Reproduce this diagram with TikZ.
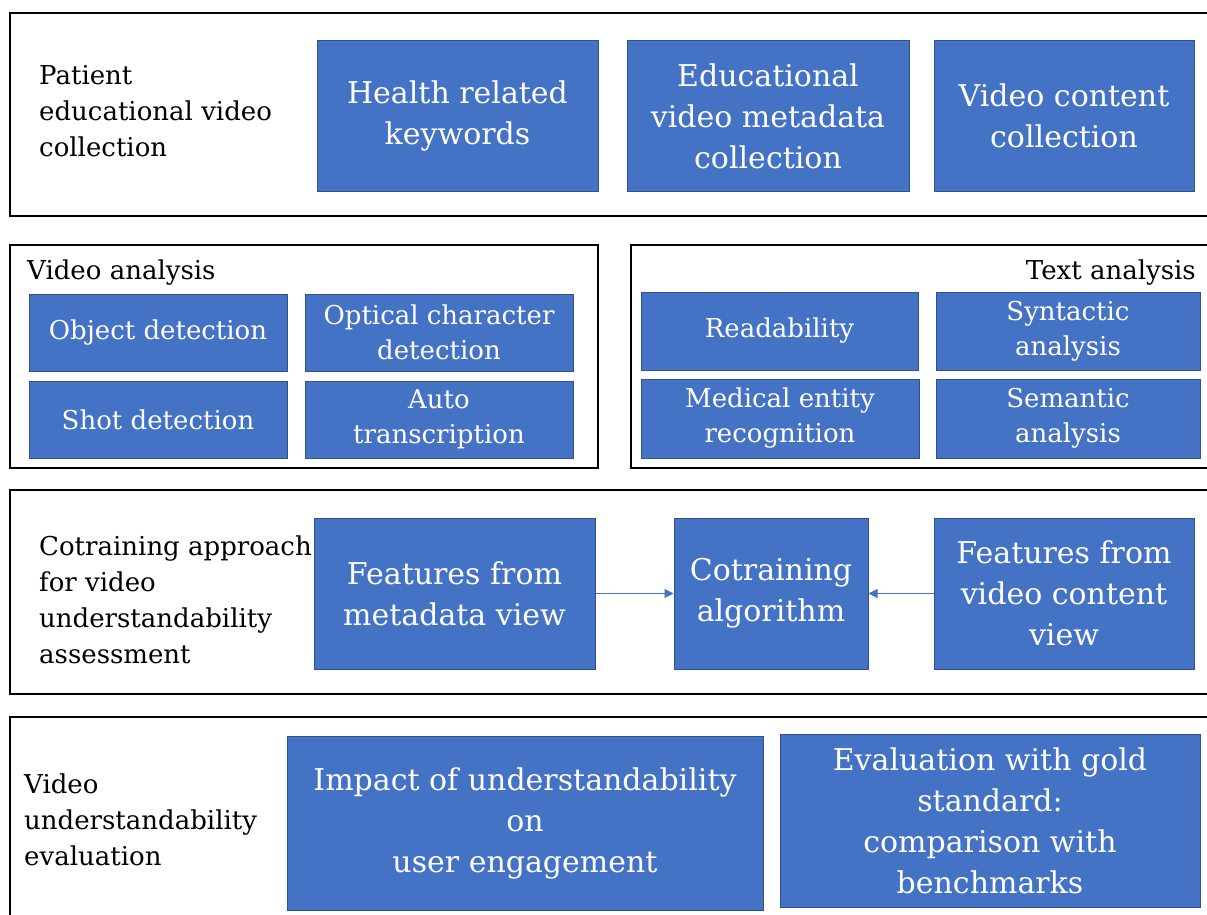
\documentclass[tikz,border=0pt]{standalone}
\usepackage{fontspec}
\setmainfont{DejaVu Serif}
\usepackage{tikz}
\usetikzlibrary{positioning,arrows.meta}

\definecolor{boxblue}{HTML}{4472C4}
\definecolor{boxedge}{HTML}{2F528F}

\begin{document}
\begin{tikzpicture}[x=1pt,y=-1pt,
		  frame/.style={draw=black, line width=1.6pt},
		  bigbox/.style={draw=boxedge, line width=1pt, fill=boxblue, text=white, align=center,
		      font=\fontsize{30}{41}\selectfont, inner sep=0pt},
		  smallbox/.style={draw=boxedge, line width=1pt, fill=boxblue, text=white, align=center,
		      font=\fontsize{26}{35}\selectfont, inner sep=0pt},
		  stage/.style={align=left, anchor=west, inner sep=0pt, font=\fontsize{26}{36}\selectfont},
		  link/.style={draw=boxblue, line width=0.8pt, -{Triangle[length=9pt,width=9pt]}}]
		  \useasboundingbox (0,0) rectangle (1207,915);
		  \fill[white] (0,0) rectangle (1207,915);

		  % collection stage
		  \draw[frame] (1220,13) -- (10,13) -- (10,216) -- (1220,216);
		  \node[stage] (collect) at (39,111) {Patient\\educational video\\collection};
		  \node[bigbox, minimum width=281, minimum height=150] (keywords) at (457.5,116) {Health related\\keywords};
		  \node[bigbox, minimum width=282, minimum height=150] (metadata) at (768,116) {Educational\\video metadata\\collection};
		  \node[bigbox, minimum width=260, minimum height=150] (content) at (1064,116) {Video content\\collection};

		  % analysis stage
		  \draw[frame] (10,245) rectangle (598,468);
		  \draw[frame] (1220,245) -- (631,245) -- (631,468) -- (1220,468);
		  \node[stage] (video) at (27,273) {Video analysis};
		  \node[stage, anchor=east] (text) at (1196,273) {Text analysis};
		  \node[smallbox, minimum width=258, minimum height=77] (object) at (158,332.5) {Object detection};
		  \node[smallbox, minimum width=268, minimum height=77] (ocr) at (439,332.5) {Optical character\\detection};
		  \node[smallbox, minimum width=258, minimum height=77] (shot) at (158,419.5) {Shot detection};
		  \node[smallbox, minimum width=268, minimum height=77] (transcript) at (439,419.5) {Auto\\transcription};
		  \node[smallbox, minimum width=277, minimum height=78] (readability) at (779.5,331) {Readability};
		  \node[smallbox, minimum width=264, minimum height=78] (syntactic) at (1068,331) {Syntactic\\analysis};
		  \node[smallbox, minimum width=278, minimum height=79] (medical) at (780,418.5) {Medical entity\\recognition};
		  \node[smallbox, minimum width=264, minimum height=79] (semantic) at (1068,418.5) {Semantic\\analysis};

		  % cotraining stage
		  \draw[frame] (1220,490) -- (10,490) -- (10,694) -- (1220,694);
		  \node[stage] (cotrain) at (39,600) {Cotraining approach\\for video\\understandability\\assessment};
		  \node[bigbox, minimum width=281, minimum height=151] (metaview) at (454.5,593.5) {Features from\\metadata view};
		  \node[bigbox, minimum width=194, minimum height=151] (algo) at (771,593.5) {Cotraining\\algorithm};
		  \node[bigbox, minimum width=260, minimum height=151] (contentview) at (1064,593.5) {Features from\\video content\\view};
		  \draw[link] (metaview) -- (algo);
		  \draw[link] (contentview) -- (algo);

		  % evaluation stage
		  \draw[frame] (1220,717) -- (10,717) -- (10,930);
		  \node[stage] (evaluate) at (24,820) {Video\\understandability\\evaluation};
		  \node[bigbox, minimum width=476, minimum height=174] (impact) at (525,823) {Impact of understandability\\on\\user engagement};
		  \node[bigbox, minimum width=420, minimum height=173] (gold) at (990,820.5) {Evaluation with gold\\standard:\\comparison with\\benchmarks};
\end{tikzpicture}
\end{document}
